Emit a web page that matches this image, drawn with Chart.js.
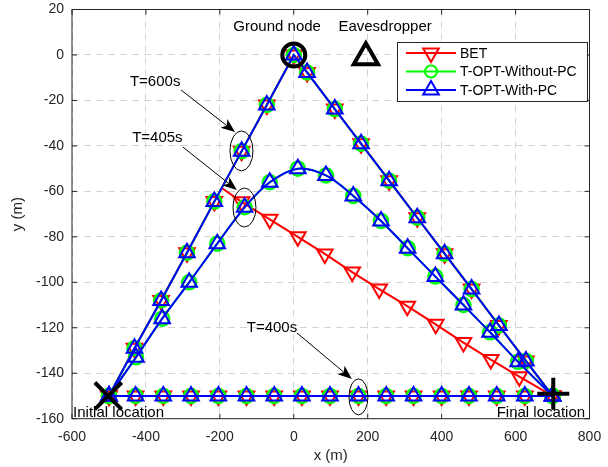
<!DOCTYPE html>
<html>
<head>
<meta charset="utf-8">
<title>UAV trajectories</title>
<script src="https://cdn.jsdelivr.net/npm/chart.js"></script>
<style>
  html, body { margin: 0; padding: 0; background: #fff; }
</style>
</head>
<body>
<canvas id="chart" width="608" height="467"></canvas>
<script>
// Series names and colours (legend order)
const methods = ['BET', 'T-OPT-Without-PC', 'T-OPT-With-PC'];
const methodColors = ['#ff0000', '#00ff00', '#0000ff'];

// T = 600 s: up to the ground node, then down to the final location
const t600X = [-500, -431, -359, -289, -215, -141, -73, 0, 36, 111, 182, 258, 334, 408, 481, 555, 628, 700];
const t600Y = [-150, -129, -108, -87, -64.5, -42.3, -22, 0, -7.7, -23.8, -39, -55.3, -71.6, -87.4, -103, -119, -134.6, -150];

// T = 405 s, optimised trajectory (both T-OPT variants)
const t405X = [-500, -427, -356, -283, -207, -133, -65, 11, 87, 161, 236, 308, 383, 459, 531, 607, 700];
const t405Y = [-150, -133, -116, -100, -83, -67, -56, -50, -53, -62, -73, -85, -97.5, -110, -122, -135, -150];

// T = 405 s, BET: leaves the T = 600 s path at the corner, straight to the end
const bet405X = [-195, -141, -65, 11, 84, 158, 231, 307, 384, 459, 533, 610, 700];
const bet405Y = [-58.5, -64.6, -72.3, -80, -87.5, -95.5, -103, -110.5, -118.5, -126.5, -134, -141.5, -150];

// T = 400 s: straight line
const t400X = [-500, -428, -353, -278, -204, -128, -53, 22, 98, 175, 250, 324, 400, 474, 549, 625, 700];
const t400Y = [-150, -150, -150, -150, -150, -150, -150, -150, -150, -150, -150, -150, -150, -150, -150, -150, -150];

// Special locations
const groundNode = [0, 0];
const eavesdropper = [195, -1];
const initialLoc = [-502, -150];
const finalLoc = [702, -149];

// Axis ticks
const xTicks = [-600, -400, -200, 0, 200, 400, 600, 800];
const yTicks = [20, 0, -20, -40, -60, -80, -100, -120, -140, -160];

const FONT = '"Liberation Sans", Arial, sans-serif';
const INK = '#262626';

function pts(xs, ys) {
  return xs.map((x, i) => ({ x: x, y: ys[i] }));
}

function seriesStyle(m) {
  const c = methodColors[m];
  const s = {
    borderColor: c,
    pointBorderColor: c,
    pointBackgroundColor: 'rgba(0,0,0,0)',
    borderWidth: 2,
    pointBorderWidth: 2,
    showLine: true,
    order: 3 - m
  };
  if (m === 0) { s.pointStyle = 'triangle'; s.rotation = 180; s.pointRadius = 9; }
  if (m === 1) { s.pointStyle = 'circle'; s.pointRadius = 7; s.pointBorderWidth = 2.5; }
  if (m === 2) { s.pointStyle = 'triangle'; s.pointRadius = 9; }
  return s;
}

const datasets = [];
for (let m = 0; m < 3; m++) {
  datasets.push(Object.assign({ label: methods[m], data: pts(t600X, t600Y) }, seriesStyle(m)));
  datasets.push(Object.assign({ label: methods[m], data: pts(t400X, t400Y) }, seriesStyle(m)));
  if (m === 0) {
    const s = seriesStyle(0);
    s.pointRadius = ctx => ctx.dataIndex === 0 ? 0 : 9;
    datasets.push(Object.assign({ label: methods[0], data: pts(bet405X, bet405Y) }, s));
  } else {
    // the optimised T = 405 s path is a smooth arc
    datasets.push(Object.assign({ label: methods[m], data: pts(t405X, t405Y), tension: 0.35 }, seriesStyle(m)));
  }
}

// black location markers
function marker(p, style, r) {
  return {
    label: '', data: [{ x: p[0], y: p[1] }], showLine: false,
    pointStyle: style, pointRadius: r, pointBorderWidth: 4,
    pointBorderColor: '#000', pointBackgroundColor: 'rgba(0,0,0,0)',
    order: 0, clip: false
  };
}
datasets.push(marker(groundNode, 'circle', 11.5));
datasets.push(marker(eavesdropper, 'triangle', 14));
datasets.push(marker(initialLoc, 'crossRot', 19));
datasets.push(marker(finalLoc, 'cross', 16));

// annotations, in data coordinates
const notes = [
  { text: 'T=600s', x: -375, y: -12, from: [-305, -15.4], to: [-159, -33.9], ell: [-141.5, -42.2, 11.5, 20] },
  { text: 'T=405s', x: -369, y: -36.5, from: [-300, -40.5], to: [-154, -59.4], ell: [-133.4, -67.1, 11.5, 19.5] },
  { text: 'T=400s', x: -59, y: -120, from: [8.7, -122.3], to: [157, -142.5], ell: [175, -150.4, 9.5, 18] }
];

function drawArrow(ctx, x1, y1, x2, y2) {
  const a = Math.atan2(y2 - y1, x2 - x1);
  const len = 14, hw = 5.5;
  const bx = x2 - len * Math.cos(a), by = y2 - len * Math.sin(a);
  const nx = x2 - len * 0.75 * Math.cos(a), ny = y2 - len * 0.75 * Math.sin(a);
  ctx.beginPath();
  ctx.moveTo(x1, y1);
  ctx.lineTo(nx, ny);
  ctx.stroke();
  ctx.beginPath();
  ctx.moveTo(x2, y2);
  ctx.lineTo(bx - hw * Math.sin(a), by + hw * Math.cos(a));
  ctx.lineTo(nx, ny);
  ctx.lineTo(bx + hw * Math.sin(a), by - hw * Math.cos(a));
  ctx.closePath();
  ctx.fill();
}

function legendMarker(ctx, m, x, y) {
  ctx.beginPath();
  if (m === 1) {
    ctx.arc(x, y, 6, 0, Math.PI * 2);
  } else {
    const r = 9, dir = m === 0 ? -1 : 1;
    ctx.moveTo(x, y - dir * r);
    ctx.lineTo(x + r * 0.866, y + dir * r / 2);
    ctx.lineTo(x - r * 0.866, y + dir * r / 2);
    ctx.closePath();
  }
  ctx.stroke();
}

const decorations = {
  id: 'decorations',
  afterDraw(chart) {
    const ctx = chart.ctx;
    const a = chart.chartArea;
    const xs = chart.scales.x, ys = chart.scales.y;
    ctx.save();

    // axes box and inward ticks
    ctx.strokeStyle = INK;
    ctx.lineWidth = 1;
    ctx.strokeRect(a.left, a.top, a.right - a.left, a.bottom - a.top);
    ctx.beginPath();
    xTicks.forEach(v => {
      const px = xs.getPixelForValue(v);
      ctx.moveTo(px, a.bottom); ctx.lineTo(px, a.bottom - 5);
      ctx.moveTo(px, a.top); ctx.lineTo(px, a.top + 5);
    });
    yTicks.forEach(v => {
      const py = ys.getPixelForValue(v);
      ctx.moveTo(a.left, py); ctx.lineTo(a.left + 5, py);
      ctx.moveTo(a.right, py); ctx.lineTo(a.right - 5, py);
    });
    ctx.stroke();

    // axis titles
    ctx.fillStyle = INK;
    ctx.font = '15px ' + FONT;
    ctx.textAlign = 'center';
    ctx.textBaseline = 'middle';
    ctx.fillText('x (m)', (a.left + a.right) / 2, a.bottom + 37);
    ctx.save();
    ctx.translate(18, (a.top + a.bottom) / 2);
    ctx.rotate(-Math.PI / 2);
    ctx.fillText('y (m)', 0, 0);
    ctx.restore();

    // annotations
    ctx.fillStyle = '#000';
    ctx.strokeStyle = '#000';
    ctx.font = '15px ' + FONT;
    notes.forEach(n => {
      ctx.textAlign = 'center';
      ctx.fillText(n.text, xs.getPixelForValue(n.x), ys.getPixelForValue(n.y));
      ctx.lineWidth = 1;
      drawArrow(ctx, xs.getPixelForValue(n.from[0]), ys.getPixelForValue(n.from[1]),
        xs.getPixelForValue(n.to[0]), ys.getPixelForValue(n.to[1]));
      ctx.beginPath();
      ctx.ellipse(xs.getPixelForValue(n.ell[0]), ys.getPixelForValue(n.ell[1]), n.ell[2], n.ell[3], 0, 0, Math.PI * 2);
      ctx.stroke();
    });
    ctx.textAlign = 'center';
    ctx.fillText('Ground node', xs.getPixelForValue(-45), ys.getPixelForValue(12.3));
    ctx.fillText('Eavesdropper', xs.getPixelForValue(247), ys.getPixelForValue(12.3));
    ctx.textAlign = 'left';
    ctx.fillText('Initial location', xs.getPixelForValue(-597), ys.getPixelForValue(-157.5));
    ctx.textAlign = 'right';
    ctx.fillText('Final location', xs.getPixelForValue(788), ys.getPixelForValue(-157.5));

    // legend box, inside the axes at the top right
    const lx = 397, ly = 42, lw = 190, lh = 59;
    ctx.fillStyle = '#fff';
    ctx.fillRect(lx, ly, lw, lh);
    ctx.strokeStyle = INK;
    ctx.lineWidth = 1;
    ctx.strokeRect(lx + 0.5, ly + 0.5, lw, lh);
    ctx.font = '14px ' + FONT;
    ctx.textAlign = 'left';
    ctx.textBaseline = 'middle';
    methods.forEach((name, m) => {
      const y = ly + 11 + m * 18.5;
      ctx.strokeStyle = methodColors[m];
      ctx.lineWidth = 2;
      ctx.beginPath();
      ctx.moveTo(lx + 9, y); ctx.lineTo(lx + 59, y);
      ctx.stroke();
      legendMarker(ctx, m, lx + 34, y);
      ctx.fillStyle = '#000';
      ctx.fillText(name, lx + 63, y + 1);
    });
    ctx.restore();
  }
};

new Chart(document.getElementById('chart').getContext('2d'), {
  type: 'scatter',
  data: { datasets: datasets },
  options: {
    responsive: false,
    animation: false,
    layout: { autoPadding: false, padding: { top: 9.5, right: 18.5, left: 0, bottom: 0 } },
    plugins: { legend: { display: false }, tooltip: { enabled: false } },
    scales: {
      x: {
        type: 'linear', min: -600, max: 800,
        afterFit: s => { s.height = 48.3; s.paddingLeft = 0; s.paddingRight = 0; },
        afterBuildTicks: s => { s.ticks = xTicks.map(v => ({ value: v })); },
        ticks: { color: INK, font: { family: FONT, size: 14 }, padding: 10, maxRotation: 0 },
        grid: { color: '#d4d4d4', lineWidth: 1, drawTicks: false },
        border: { display: false, dash: [7, 5] }
      },
      y: {
        type: 'linear', min: -160, max: 20,
        afterFit: s => { s.width = 72; s.paddingTop = 0; s.paddingBottom = 0; },
        afterBuildTicks: s => { s.ticks = yTicks.map(v => ({ value: v })); },
        ticks: { color: INK, font: { family: FONT, size: 14 }, padding: 8 },
        grid: { color: '#d4d4d4', lineWidth: 1, drawTicks: false },
        border: { display: false, dash: [7, 5] }
      }
    }
  },
  plugins: [decorations]
});
</script>
</body>
</html>
